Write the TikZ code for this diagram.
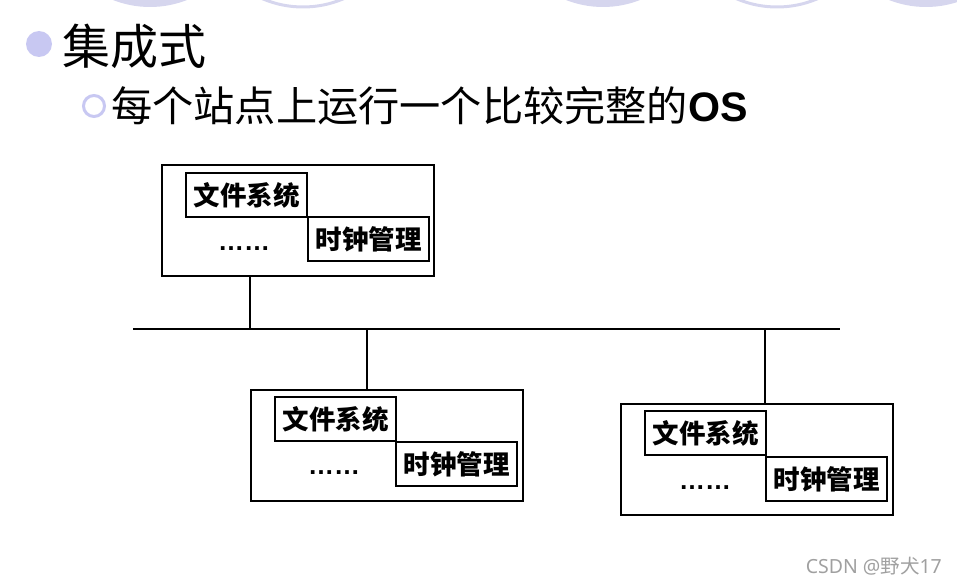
\documentclass[tikz,border=0pt]{standalone}
\usepackage{fontspec}
\setmainfont{Liberation Sans}
\newfontfamily\cjk{Noto Sans CJK SC}
\newfontfamily\lat{Liberation Sans}
\newfontfamily\wlat{Noto Sans}
\definecolor{lav}{HTML}{D6D6EE}
\definecolor{bul}{HTML}{C8C8F2}
\definecolor{wm}{HTML}{A0A0A0}
\begin{document}
\begin{tikzpicture}[x=1pt,y=-1pt,
  outer/.style={draw=black,line width=2pt,minimum width=272pt,minimum height=111pt,anchor=north west,inner sep=0pt},
  lbl/.style={draw=black,line width=2pt,minimum width=121pt,minimum height=44pt,anchor=north west,inner sep=0pt,font=\cjk\bfseries\fontsize{26.5pt}{26.5pt}\selectfont},
  dots/.style={font=\lat\bfseries\fontsize{26pt}{26pt}\selectfont,inner sep=0pt,anchor=base},
  wire/.style={line width=2pt}]
\useasboundingbox (0,0) rectangle (957,583);
\clip (0,0) rectangle (957,583);
% top decorations
\fill[lav] (150,-94) circle (101);
\fill[lav] (603,-94) circle (101);
\fill[lav] (926,-94) circle (101);
\draw[lav,line width=3pt] (303,-96) circle (103);
\draw[lav,line width=3pt] (777,-96) circle (103);
% bullets and titles
\fill[bul] (39,44) circle (13);
\node[anchor=west,inner sep=0pt,font=\cjk\fontsize{48pt}{48pt}\selectfont] (t1) at (62,46) {集成式};
\draw[bul,line width=3pt] (94,106) circle (10.5);
\node[anchor=west,inner sep=0pt,font=\cjk\fontsize{41.2pt}{41.2pt}\selectfont] (t2) at (111,106) {每个站点上运行一个比较完整的{\lat\bfseries OS}};
% station 1
\node[outer] (s1) at (161,164) {};
\node[lbl] (f1) at (185,172) {文件系统};
\node[lbl] (c1) at (307,216) {时钟管理};
\node[dots] (d1) at (244,250) {……};
% station 2
\node[outer] (s2) at (250,389) {};
\node[lbl] (f2) at (274,396) {文件系统};
\node[lbl] (c2) at (395,441) {时钟管理};
\node[dots] (d2) at (334,474) {……};
% station 3
\node[outer] (s3) at (620,403) {};
\node[lbl] (f3) at (644,410) {文件系统};
\node[lbl] (c3) at (765,456) {时钟管理};
\node[dots] (d3) at (705,489) {……};
% bus
\coordinate (busL) at (133,329);
\coordinate (busR) at (840,329);
\coordinate (j1) at (250,329);
\coordinate (j2) at (367,329);
\coordinate (j3) at (765,329);
\draw[wire] (busL) -- (busR);
\draw[wire] (j1) -- (j1 |- s1.south);
\draw[wire] (j2) -- (j2 |- s2.north);
\draw[wire] (j3) -- (j3 |- s3.north);
% watermark
\node[anchor=east,inner sep=0pt,text=wm,font=\wlat\fontsize{19.5pt}{19.5pt}\selectfont] (wmk) at (942,566) {CSDN @{\cjk 野犬}17};
\end{tikzpicture}
\end{document}
